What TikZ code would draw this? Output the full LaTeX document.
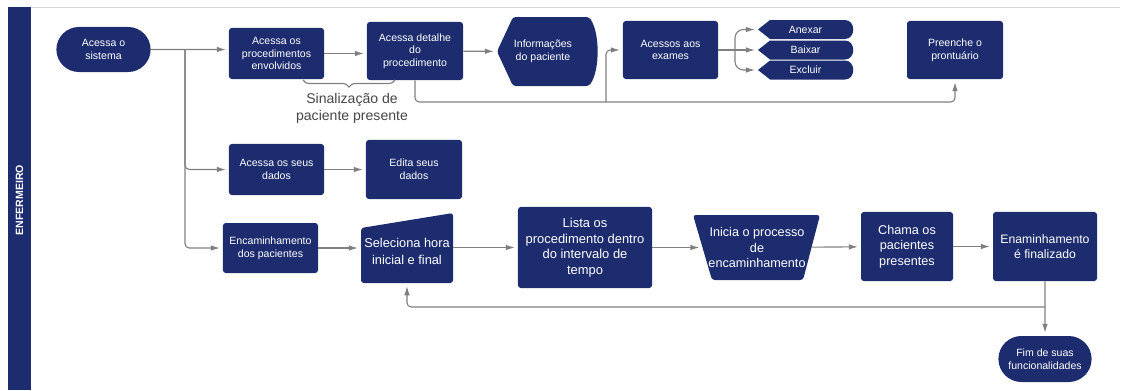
\documentclass[tikz,border=0pt]{standalone}
\usepackage{fontspec}
\setmainfont{Liberation Sans}
\usetikzlibrary{arrows.meta,shapes.misc,decorations.pathreplacing}
\definecolor{navy}{RGB}{29,44,110}
\definecolor{linegray}{RGB}{128,128,128}
\definecolor{notegray}{RGB}{70,70,70}

\begin{document}
\begin{tikzpicture}[x=0.025cm,y=-0.025cm,>={Latex[length=6.5pt,width=4pt]},shorten >=2pt,
    every node/.style={text=white,align=center}]
  \tikzstyle{box}=[rectangle,fill=navy,rounded corners=2pt,inner sep=1pt,font=\fontsize{7.5}{9}\selectfont]
  \tikzstyle{bigbox}=[box,font=\fontsize{9}{11}\selectfont]
  \tikzstyle{term}=[rounded rectangle,fill=navy,inner sep=1pt,font=\fontsize{7.5}{9}\selectfont]
  \tikzstyle{ghost}=[rectangle,inner sep=1pt,font=\fontsize{7.5}{9}\selectfont]
  \tikzstyle{link}=[draw=linegray,line width=0.8pt,rounded corners=3pt]

  \useasboundingbox (0,0) rectangle (1123,390);

  % lane
  \draw[gray!30,line width=0.6pt] (8,7) -- (1123,7);
  \fill[navy] (8,7) rectangle (31,390);
  \node[rotate=90,font=\bfseries\fontsize{7.5}{9}\selectfont] (lane) at (19.5,200) {ENFERMEIRO};

  % first row
  \node[term,minimum width=2.425cm,minimum height=1.125cm] (sys) at (103.5,49.5) {Acessa o\\sistema};
  \node[box,minimum width=2.375cm,minimum height=1.275cm] (proc) at (276.5,53.5) {Acessa os\\procedimentos\\envolvidos};
  \node[box,minimum width=2.4cm,minimum height=1.45cm] (detail) at (415,51) {Acessa detalhe\\do\\procedimento};

  \fill[navy,rounded corners=2pt] (513,17) -- (497,51.5) -- (513,86) -- (589,86)
    .. controls (600,70) and (600,33) .. (589,17) -- cycle;
  \node[ghost,minimum width=2.3cm,minimum height=1.725cm] (info) at (543,51.5) {Informações\\do paciente};

  \node[box,minimum width=2.375cm,minimum height=1.45cm] (exams) at (670.5,50) {Acessos aos\\exames};

  \foreach \nm/\txt/\yy in {attach/Anexar/29.5, download/Baixar/50, remove/Excluir/70} {
    \fill[navy] (770,\yy-9.5) -- (758,\yy) -- (770,\yy+9.5) -- (845,\yy+9.5)
      .. controls (856,\yy+9.5) and (856,\yy-9.5) .. (845,\yy-9.5) -- cycle;
    \node[ghost,minimum width=2.375cm,minimum height=0.475cm] (\nm) at (805.5,\yy) {\txt};
  }

  \node[box,minimum width=2.4cm,minimum height=1.45cm] (chart) at (955,50) {Preenche o\\prontuário};

  \node[font=\fontsize{10}{12}\selectfont,text=notegray] (flag) at (352,108.5) {Sinalização de\\paciente presente};

  % second row
  \node[box,minimum width=2.375cm,minimum height=1.275cm] (data) at (276.5,169.5) {Acessa os seus\\dados};
  \node[box,minimum width=2.4cm,minimum height=1.475cm] (edit) at (414,169.5) {Edita seus\\dados};

  % third row
  \node[box,minimum width=2.375cm,minimum height=1.25cm] (route) at (270.5,248) {Encaminhamento\\dos pacientes};

  \fill[navy,rounded corners=2pt] (361,228) -- (453,213) -- (453,283) -- (361,283) -- cycle;
  \node[ghost,minimum width=2.3cm,minimum height=1.6cm,font=\fontsize{9.1}{12}\selectfont] (select) at (407,251) {Seleciona hora\\inicial e final};

  \node[bigbox,font=\fontsize{9.2}{11}\selectfont,minimum width=3.35cm,minimum height=2.025cm] (list) at (585,247.5) {Lista os\\procedimento dentro\\do intervalo de\\tempo};

  \fill[navy,rounded corners=2pt] (693,215) -- (820,215) -- (803,280) -- (712,280) -- cycle;
  \node[ghost,minimum width=2.725cm,minimum height=1.625cm,font=\fontsize{9}{11}\selectfont] (start) at (757,247.5) {Inicia o processo\\de\\encaminhamento};

  \node[bigbox,minimum width=2.3cm,minimum height=1.725cm] (call) at (907,246.5) {Chama os\\pacientes\\presentes};
  \node[bigbox,font=\fontsize{8.7}{11}\selectfont,minimum width=2.6cm,minimum height=1.725cm] (done) at (1045,246.5) {Enaminhamento\\é finalizado};
  \node[term,minimum width=2.4cm,minimum height=1.15cm] (end) at (1045,359) {Fim de suas\\funcionalidades};

  % connectors
  \coordinate (fork) at (185,49.5);
  \coordinate (bus) at (606,102);
  \coordinate (split) at (735,50);
  \coordinate (back) at (1045,307);

  \draw[link,->] (sys) -- (proc.west |- sys);
  \draw[link,->] (fork) |- (data);
  \draw[link,->] (fork) |- (route);
  \draw[link,->] (proc) -- (proc -| detail.west);
  \draw[link,->] (detail) -- (info);
  \draw[link,->] (detail.south) |- (bus) -| (chart.south);
  \draw[link,->] (bus) |- (exams);
  \draw[link,shorten >=0pt] (exams) -- (split);
  \draw[link,->,rounded corners=6pt] (split) |- (attach);
  \draw[link,->] (split) -- (download);
  \draw[link,->,rounded corners=6pt] (split) |- (remove);
  \draw[draw=linegray,line width=0.8pt,shorten >=0pt,decorate,decoration={brace,amplitude=5pt}] (395,80) -- (303,80);

  \draw[link,->] (data) -- (edit);
  \draw[link,->] (route) -- (route -| select.west);
  \draw[link,->] (select.east |- list) -- (list);
  \draw[link,->] (list) -- (start);
  \draw[link,->] (start) -- (call);
  \draw[link,->] (call) -- (done);
  \draw[link,->] (done) -- (end);
  \draw[link,->] (back) -| (select.south);
\end{tikzpicture}
\end{document}
